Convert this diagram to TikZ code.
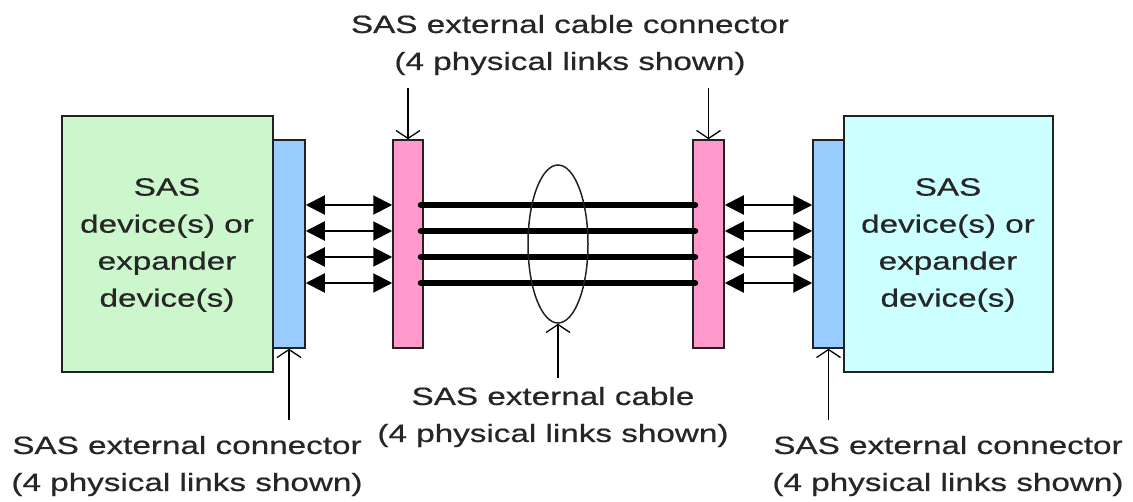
\documentclass[tikz,border=0pt]{standalone}
\usepackage{fontspec}
\setmainfont{Liberation Sans}[FakeStretch=1.33,FakeBold=0.6]
\usetikzlibrary{arrows.meta,calc,shapes.geometric}
\definecolor{greenfill}{HTML}{CCF7CC}
\definecolor{cyanfill}{HTML}{CCFFFF}
\definecolor{bluefill}{HTML}{99CCFF}
\definecolor{pinkfill}{HTML}{FF99CC}
\definecolor{edge}{HTML}{222222}
\tikzset{
  devbox/.style={draw=edge, line width=1.5pt},
  link/.style={line width=2pt, {Triangle[length=19pt,width=19pt]}-{Triangle[length=19pt,width=19pt]}},
  wire/.style={line width=6pt, line cap=round},
  pointer/.style={line width=1.3pt, -{Straight Barb[length=8pt,width=24pt,line width=1.3pt]}},
  lbl/.style={align=center, font=\fontsize{25}{37}\selectfont, text=black!85, inner sep=0pt},
}
\begin{document}
\begin{tikzpicture}[x=1pt,y=-1pt]
\useasboundingbox (0,0) rectangle (1133,502);
% device boxes
\draw[devbox, fill=greenfill] (62,116) rectangle (273,372);
\node[lbl] (ltext) at (167,245) {SAS\\device(s) or\\expander\\device(s)};
\draw[devbox, fill=cyanfill] (844,116) rectangle (1053,372);
\node[lbl] (rtext) at (948,245) {SAS\\device(s) or\\expander\\device(s)};
% connectors
\node[devbox, fill=bluefill, minimum width=32pt, minimum height=208pt, inner sep=0pt] (lconn) at (289,244) {};
\node[devbox, fill=pinkfill, minimum width=30pt, minimum height=208pt, inner sep=0pt] (lcab) at (408,244) {};
\node[devbox, fill=pinkfill, minimum width=31pt, minimum height=208pt, inner sep=0pt] (rcab) at (708.5,244) {};
\node[devbox, fill=bluefill, minimum width=31pt, minimum height=208pt, inner sep=0pt] (rconn) at (828.5,244) {};
% cable wires
\foreach \y in {205,231,257,283} {
  \draw[wire] ($(lcab.east |- 0,\y)+(-3,0)$) -- ($(rcab.west |- 0,\y)+(3,0)$);
}
% links
\foreach \y in {205,231,257,283} {
  \draw[link] (lconn.east |- 0,\y) -- (lcab.west |- 0,\y);
  \draw[link] (rcab.east |- 0,\y) -- (rconn.west |- 0,\y);
}
% cable ellipse
\node[draw=edge, line width=1.5pt, ellipse, minimum width=60pt, minimum height=158pt, inner sep=0pt] (cable) at (558,244) {};
% labels
\node[lbl] (toplbl) at (570,45) {SAS external cable connector\\(4 physical links shown)};
\node[lbl] (midlbl) at (553,417) {SAS external cable\\(4 physical links shown)};
\node[lbl] (bllbl) at (187,466) {SAS external connector\\(4 physical links shown)};
\node[lbl] (brlbl) at (948,466) {SAS external connector\\(4 physical links shown)};
% pointers
\coordinate (ta) at (408,88);
\coordinate (tb) at (708.5,88);
\draw[pointer] (ta) -- (lcab.north);
\draw[pointer] (tb) -- (rcab.north);
\coordinate (ma) at (558,378);
\draw[pointer] (ma) -- (cable.south);
\coordinate (la) at (289,420);
\coordinate (ra) at (828.5,420);
\draw[pointer] (la) -- (lconn.south);
\draw[pointer] (ra) -- (rconn.south);
\end{tikzpicture}
\end{document}
